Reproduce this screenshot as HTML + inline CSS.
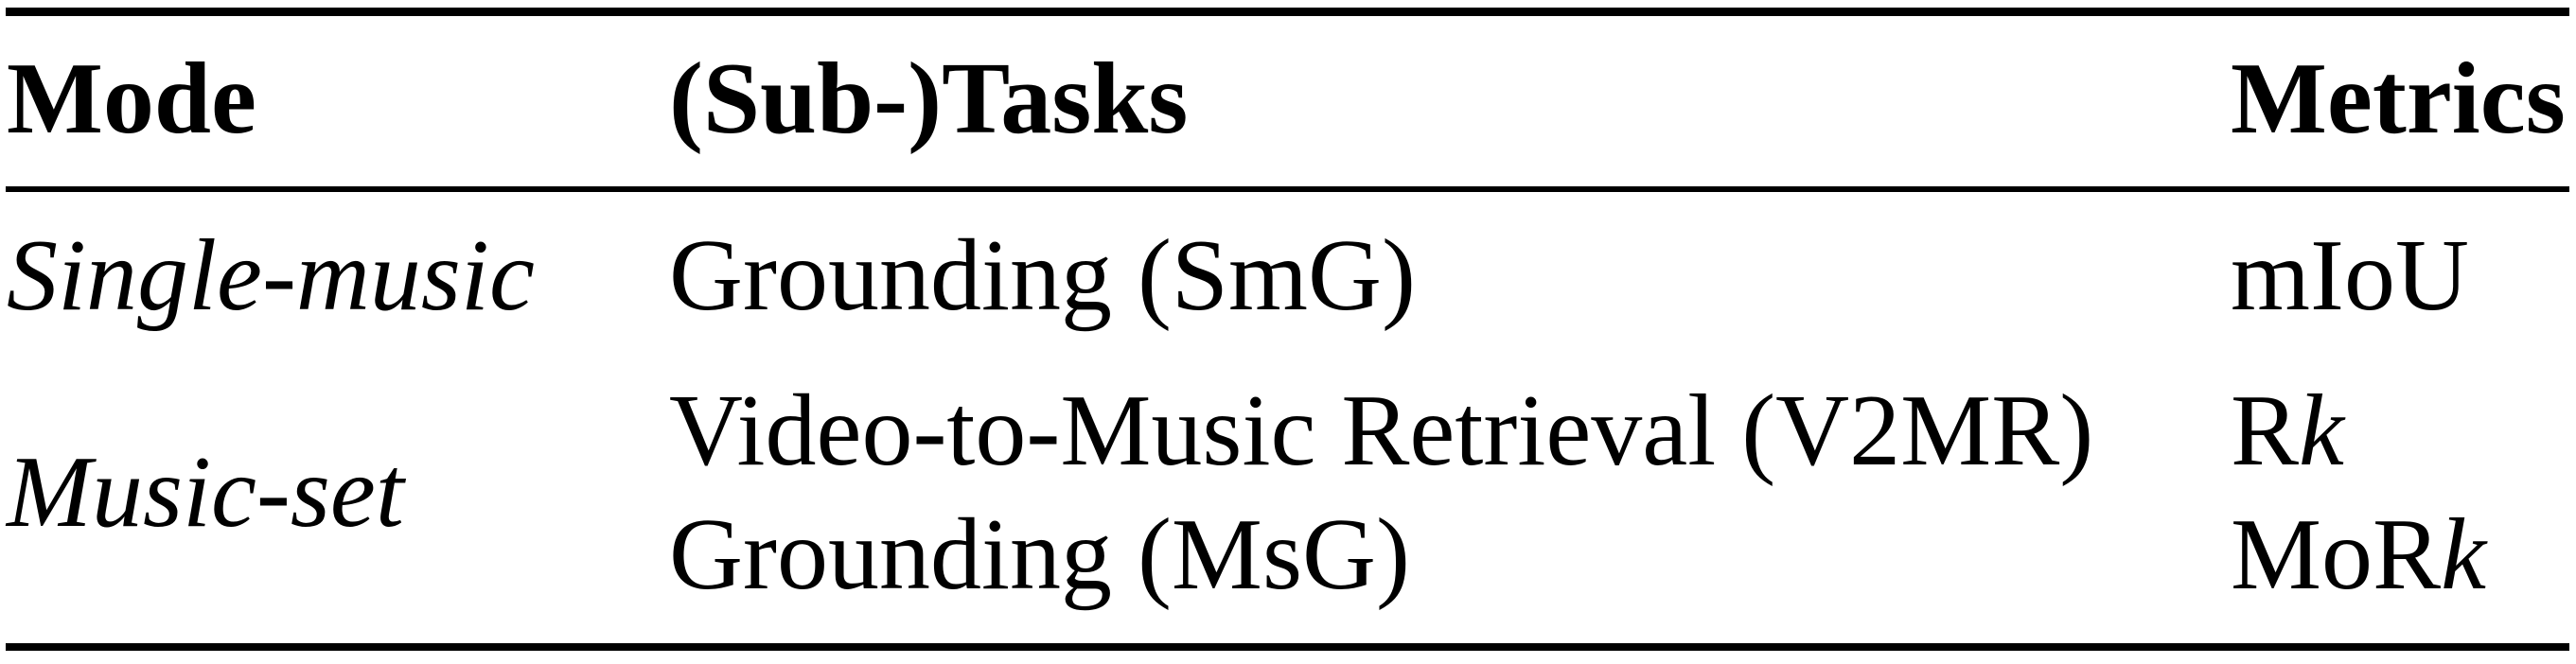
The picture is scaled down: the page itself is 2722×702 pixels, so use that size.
<!DOCTYPE html>
<html><head><style>
html,body{margin:0;padding:0;background:#fff;}
svg{display:block;}
text{font-family:"Liberation Serif",serif;font-size:108px;fill:#000;}
.b{font-weight:bold;}
.i{font-style:italic;}
</style></head><body>
<svg width="2722" height="702" viewBox="0 0 2722 702">
<rect x="6" y="8" width="2709" height="9" fill="#000"/>
<rect x="6" y="197" width="2709" height="6" fill="#000"/>
<rect x="6" y="680" width="2709" height="8" fill="#000"/>
<text class="b" x="7" y="140">Mode</text>
<text class="b" x="707" y="140">(Sub-)Tasks</text>
<text class="b" x="2357" y="140">Metrics</text>
<text class="i" x="7" y="327">Single-music</text>
<text x="707" y="327">Grounding (SmG)</text>
<text x="2357" y="327">mIoU</text>
<text class="i" x="7" y="556">Music-set</text>
<text x="707" y="491">Video-to-Music Retrieval (V2MR)</text>
<text x="2357" y="491">R<tspan class="i">k</tspan></text>
<text x="707" y="622">Grounding (MsG)</text>
<text x="2357" y="622">MoR<tspan class="i">k</tspan></text>
</svg>
</body></html>
